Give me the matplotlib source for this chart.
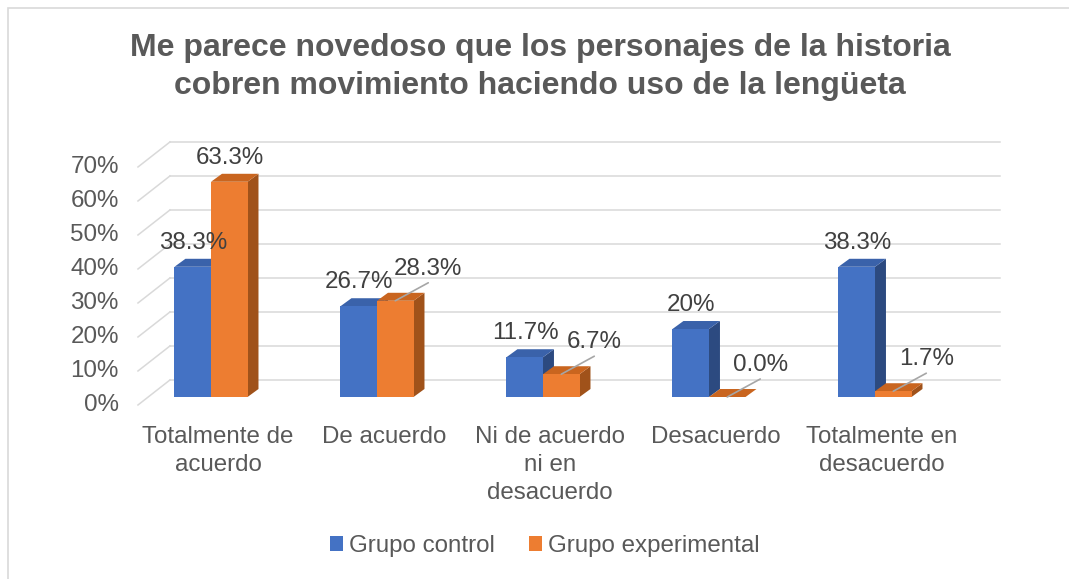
import matplotlib.pyplot as plt
from matplotlib.patches import Polygon, Patch, Rectangle

# Datos (porcentajes)
categorias = ['Totalmente de\nacuerdo', 'De acuerdo', 'Ni de acuerdo\nni en\ndesacuerdo',
              'Desacuerdo', 'Totalmente en\ndesacuerdo']
grupo_control = [38.3, 26.7, 11.7, 20.0, 38.3]
grupo_experimental = [63.3, 28.3, 6.7, 0.0, 1.7]
etiquetas_control = ['38.3%', '26.7%', '11.7%', '20%', '38.3%']
etiquetas_experimental = ['63.3%', '28.3%', '6.7%', '0.0%', '1.7%']
ticks_y = [0, 10, 20, 30, 40, 50, 60, 70]
series = ['Grupo control', 'Grupo experimental']

# Colores (frente, tapa, lateral)
azul = ('#4472C4', '#3A62AA', '#2C4A80')
naranja = ('#ED7D31', '#C9651F', '#A0521A')
gris_texto = '#595959'
tam = 17.4

plt.rcParams['font.family'] = ['Liberation Sans', 'DejaVu Sans']

fig = plt.figure(figsize=(10.69, 5.79), dpi=100)
ax = fig.add_axes([0.09355, 0.24387, 0.86062, 0.52850])
ax.set_xlim(-0.6687, 4.8735)
ax.set_ylim(-12, 78)
ax.axis('off')

# marco del gráfico
fig.patches.append(Rectangle((8 / 1069, -0.05), 1.2, 1 - 8 / 579 + 0.05, transform=fig.transFigure,
                             fill=False, edgecolor='#d9d9d9', linewidth=1.2))

# geometría de la perspectiva (en unidades de datos)
ancho = 0.22
prof_x, prof_y = 0.066, 2.35        # profundidad de cada barra
fondo_x, fondo_y = 0.1325, 5.0      # pared del fondo
frente_x, frente_y = -0.060, -2.35  # borde frontal del suelo
x0, x1 = -0.38, 4.62

# líneas de la cuadrícula en la pared y el lateral
for v in ticks_y:
    ax.plot([x0 + fondo_x, x1 + fondo_x], [v + fondo_y, v + fondo_y], color='#d9d9d9', lw=1.1, zorder=1)
    ax.plot([x0 + frente_x, x0 + fondo_x], [v + frente_y, v + fondo_y], color='#d9d9d9', lw=1.1, zorder=1)
    ax.text(x0 + frente_x - 0.115, v + frente_y, f'{v}%', ha='right', va='center',
            fontsize=tam, color=gris_texto)

posiciones = list(range(len(categorias)))


def barras_3d(xs, valores, colores, z):
    ax.bar(xs, valores, width=ancho, align='edge', color=colores[0], zorder=z + 0.2, linewidth=0)
    for x, v in zip(xs, valores):
        tapa = [(x, v), (x + ancho, v), (x + ancho + prof_x, v + prof_y), (x + prof_x, v + prof_y)]
        lado = [(x + ancho, 0), (x + ancho + prof_x, prof_y), (x + ancho + prof_x, v + prof_y), (x + ancho, v)]
        ax.add_patch(Polygon(tapa, closed=True, facecolor=colores[1], edgecolor='none', zorder=z + 0.1))
        ax.add_patch(Polygon(lado, closed=True, facecolor=colores[2], edgecolor='none', zorder=z))


x_control = [p - ancho for p in posiciones]
x_exp = [p for p in posiciones]
barras_3d(x_control, grupo_control, azul, 3)
barras_3d(x_exp, grupo_experimental, naranja, 4)

# etiquetas de datos
for x, v, t in zip(x_control, grupo_control, etiquetas_control):
    ax.annotate(t, (x + ancho / 2 + prof_x / 2, v + prof_y / 2), xytext=(-5, 20),
                textcoords='offset pixels', ha='center', va='center', fontsize=tam,
                color='#404040', zorder=10)
for i, (x, v, t) in enumerate(zip(x_exp, grupo_experimental, etiquetas_experimental)):
    if i == 0:
        ax.annotate(t, (x + ancho / 2 + prof_x / 2, v + prof_y / 2), xytext=(-5, 20),
                    textcoords='offset pixels', ha='center', va='center', fontsize=tam,
                    color='#404040', zorder=10)
    else:
        ax.annotate('', (x + ancho / 2, v), xytext=(33, 18), textcoords='offset pixels',
                    arrowprops=dict(arrowstyle='-', color='#a6a6a6', lw=1.2, shrinkA=0, shrinkB=0),
                    zorder=10)
        ax.annotate(t, (x + ancho / 2, v), xytext=(33, 32), textcoords='offset pixels',
                    ha='center', va='center', fontsize=tam, color='#404040', zorder=10)

# categorías
for p, c in zip(posiciones, categorias):
    ax.text(p + 0.042, frente_y - 6.2, c, ha='center', va='top', fontsize=tam,
            color=gris_texto, linespacing=1.34)

fig.text(540 / 1069, 1 - 67 / 579,
         'Me parece novedoso que los personajes de la historia\ncobren movimiento haciendo uso de la lengüeta',
         ha='center', va='center', fontsize=23, fontweight='bold', color=gris_texto, linespacing=1.32)

manejadores = [Patch(facecolor=azul[0], label=series[0]), Patch(facecolor=naranja[0], label=series[1])]
fig.legend(handles=manejadores, loc='center', bbox_to_anchor=(545 / 1069, 1 - 546 / 579), ncol=2,
           frameon=False, fontsize=tam, handlelength=0.55, handleheight=0.55, handletextpad=0.25,
           columnspacing=1.4, labelcolor=gris_texto)

fig.savefig('out.png', dpi=100)
